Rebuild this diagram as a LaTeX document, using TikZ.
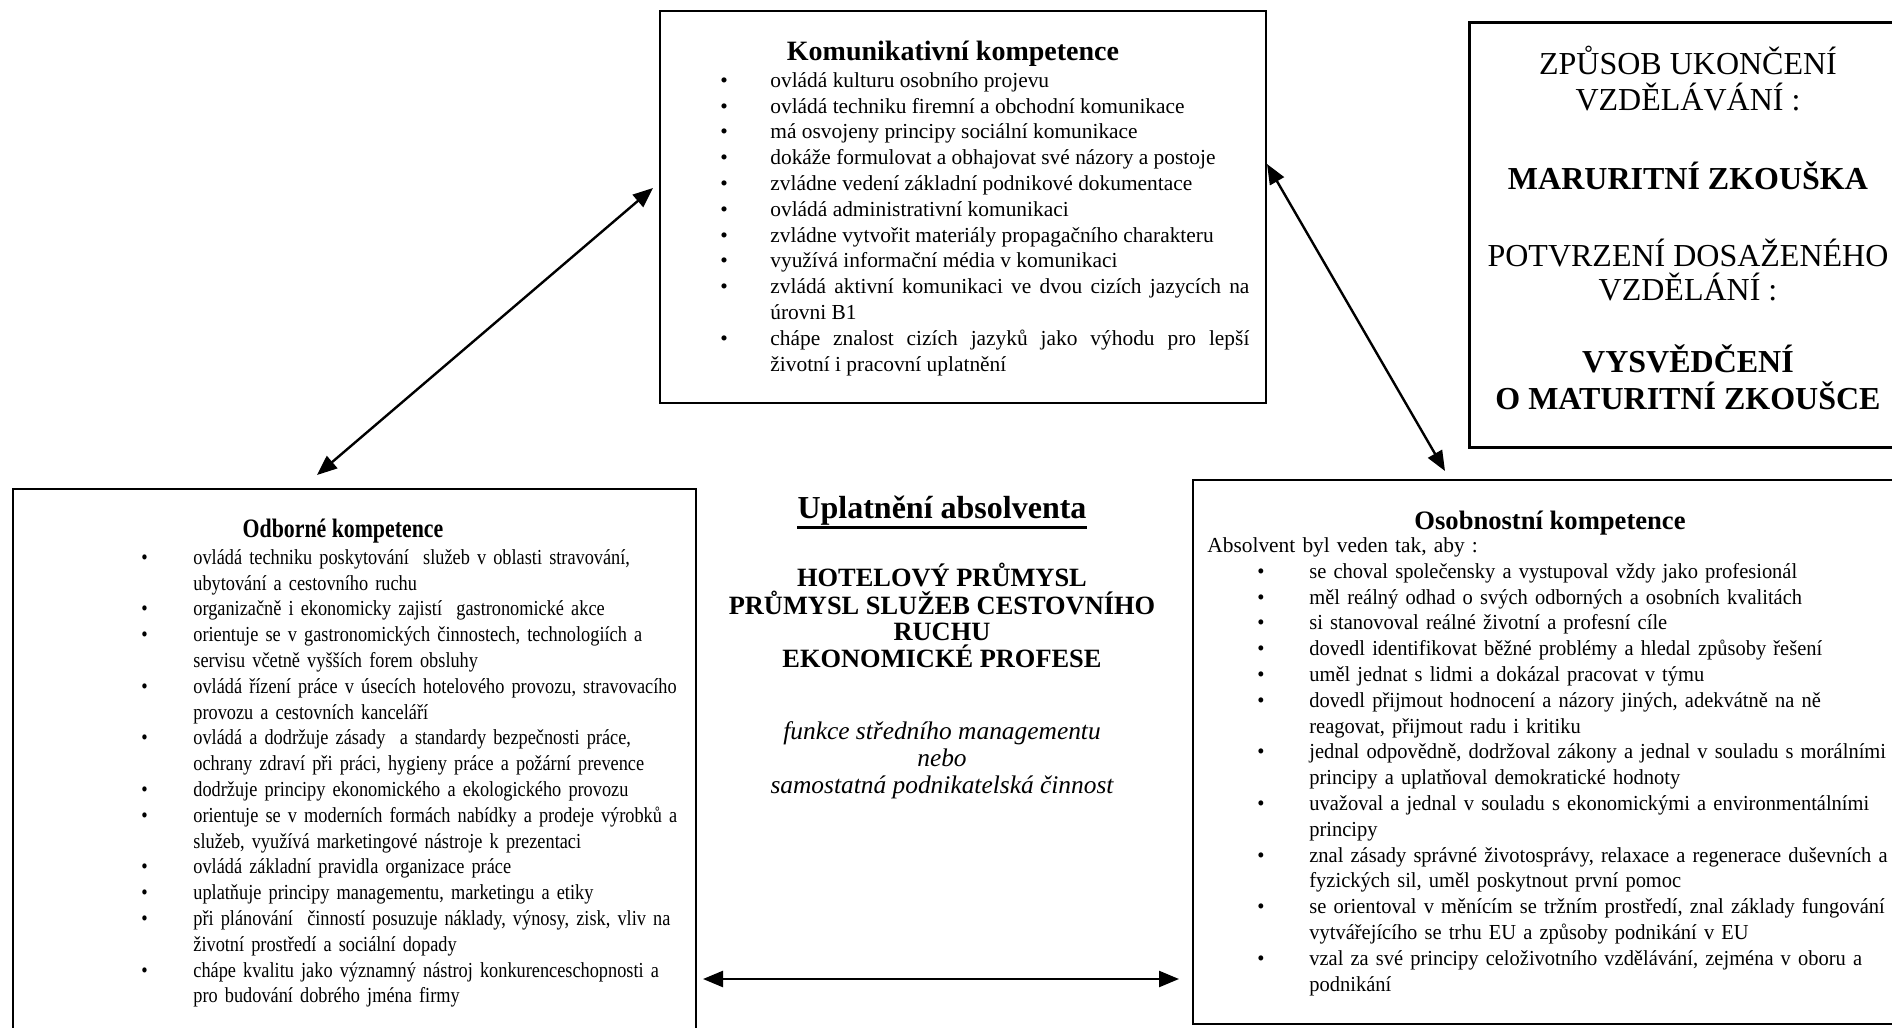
\documentclass[tikz,border=0pt]{standalone}
\usepackage{fontspec}
\setmainfont{Liberation Serif}
\newfontfamily\odbfont[FakeStretch=0.855]{Liberation Serif}
\newfontfamily\odbtfont[FakeStretch=0.82]{Liberation Serif}
\newfontfamily\osofont[FakeStretch=0.957]{Liberation Serif}
\usetikzlibrary{arrows.meta}
\newlength\bulind
\newlength\bulpos
\newcommand\bit[1]{\par\noindent\hangindent=\bulind\hangafter=1\makebox[\bulind][l]{\hspace*{\bulpos}\textbullet}\strut#1}
\newcommand\nohyph{\hyphenpenalty=10000\exhyphenpenalty=10000\relax}
\tikzset{
  frame/.style={draw, line width=1pt, anchor=north west, inner sep=0pt},
  lst/.style={anchor=north west, inner sep=0pt},
  ttl/.style={anchor=base, inner sep=0pt, font=\fontsize{13.3pt}{15pt}\selectfont\bfseries},
  capline/.style={anchor=base, inner sep=0pt, font=\fontsize{13.2pt}{15pt}\selectfont\bfseries},
  itline/.style={anchor=base, inner sep=0pt, font=\fontsize{12.7pt}{15pt}\selectfont\itshape},
  bigline/.style={anchor=base, inner sep=0pt, font=\fontsize{16pt}{18pt}\selectfont},
  bigbold/.style={anchor=base, inner sep=0pt, font=\fontsize{16pt}{18pt}\selectfont\bfseries},
  dbl/.style={{Triangle[length=10pt,width=8pt]}-{Triangle[length=10pt,width=8pt]}, line width=1.2pt},
}
\begin{document}
\begin{tikzpicture}[x=0.5pt, y=-0.5pt]
\useasboundingbox (0,0) rectangle (1892,1028);

% boxes
\node[frame, minimum width=303pt, minimum height=196pt] (komBox) at (659,10) {};
\node[frame, minimum width=341.5pt, minimum height=290pt] (odbBox) at (12,488) {};
\node[frame, minimum width=360pt, minimum height=272pt] (osoBox) at (1192,479) {};
\node[frame, line width=1.5pt, minimum width=224pt, minimum height=212.5pt] (endBox) at (1468,21) {};

% Komunikativni
\node[ttl, font=\fontsize{14pt}{15pt}\selectfont\bfseries] (komT) at (953,61) {Komunikativní kompetence};
\node[lst, text width=264.5pt, align=justify, font=\fontsize{10.7pt}{12.9pt}\selectfont] (komL) at (720,61) {\nohyph\setlength\bulind{25pt}\setlength\bulpos{0pt}%
\bit{ovládá kulturu osobního projevu}
\bit{ovládá techniku firemní a obchodní komunikace}
\bit{má osvojeny principy sociální komunikace}
\bit{dokáže formulovat a obhajovat své názory a postoje}
\bit{zvládne vedení základní podnikové dokumentace}
\bit{ovládá administrativní komunikaci}
\bit{zvládne vytvořit materiály propagačního charakteru}
\bit{využívá informační média v komunikaci}
\bit{zvládá aktivní komunikaci ve dvou cizích jazycích na\linebreak úrovni B1}
\bit{chápe znalost cizích jazyků jako výhodu pro lepší\linebreak životní i pracovní uplatnění}\par};

% Odborne
\node[ttl, font=\fontsize{13.3pt}{15pt}\selectfont\odbtfont\bfseries] (odbT) at (343,537) {Odborné kompetence};
\node[lst, text width=300pt, align=left, font=\fontsize{10.7pt}{12.9pt}\selectfont\odbfont] (odbL) at (141,538) {\nohyph\setlength\bulind{26pt}\setlength\bulpos{0pt}%
\bit{ovládá techniku poskytování \ služeb v oblasti stravování,\newline ubytování a cestovního ruchu}
\bit{organizačně i ekonomicky zajistí \ gastronomické akce}
\bit{orientuje se v gastronomických činnostech, technologiích a\newline servisu včetně vyšších forem obsluhy}
\bit{ovládá řízení práce v úsecích hotelového provozu, stravovacího\newline provozu a cestovních kanceláří}
\bit{ovládá a dodržuje zásady \ a standardy bezpečnosti práce,\newline ochrany zdraví při práci, hygieny práce a požární prevence}
\bit{dodržuje principy ekonomického a ekologického provozu}
\bit{orientuje se v moderních formách nabídky a prodeje výrobků a\newline služeb, využívá marketingové nástroje k prezentaci}
\bit{ovládá základní pravidla organizace práce}
\bit{uplatňuje principy managementu, marketingu a etiky}
\bit{při plánování \ činností posuzuje náklady, výnosy, zisk, vliv na\newline životní prostředí a sociální dopady}
\bit{chápe kvalitu jako významný nástroj konkurenceschopnosti a\newline pro budování dobrého jména firmy}\par};

% Osobnostni
\node[ttl] (osoT) at (1550,529) {Osobnostní kompetence};
\node[lst, text width=370pt, align=left, font=\fontsize{10.7pt}{12.9pt}\selectfont] (osoL) at (1207,534) {\nohyph\setlength\bulind{51pt}\setlength\bulpos{25pt}%
\noindent\strut Absolvent byl veden tak, aby :\par
\osofont
\bit{se choval společensky a vystupoval vždy jako profesionál}
\bit{měl reálný odhad o svých odborných a osobních kvalitách}
\bit{si stanovoval reálné životní a profesní cíle}
\bit{dovedl identifikovat běžné problémy a hledal způsoby řešení}
\bit{uměl jednat s lidmi a dokázal pracovat v týmu}
\bit{dovedl přijmout hodnocení a názory jiných, adekvátně na ně\newline reagovat, přijmout radu i kritiku}
\bit{jednal odpovědně, dodržoval zákony a jednal v souladu s morálními\newline principy a uplatňoval demokratické hodnoty}
\bit{uvažoval a jednal v souladu s ekonomickými a environmentálními\newline principy}
\bit{znal zásady správné životosprávy, relaxace a regenerace duševních a\newline fyzických sil, uměl poskytnout první pomoc}
\bit{se orientoval v měnícím se tržním prostředí, znal základy fungování\newline vytvářejícího se trhu EU a způsoby podnikání v EU}
\bit{vzal za své principy celoživotního vzdělávání, zejména v oboru a\newline podnikání}\par};

% centre column
\node[anchor=base, inner sep=0pt, font=\fontsize{16pt}{18pt}\selectfont\bfseries] (upl) at (942,518) {Uplatnění absolventa};
\draw[line width=1.3pt] ([yshift=-4.6pt]upl.base west) -- ([yshift=-4.6pt]upl.base east);
\node[capline] (h1) at (942,586) {HOTELOVÝ PRŮMYSL};
\node[capline] (h2) at (942,614) {PRŮMYSL SLUŽEB CESTOVNÍHO};
\node[capline] (h3) at (942,640) {RUCHU};
\node[capline] (h4) at (942,667) {EKONOMICKÉ PROFESE};
\node[itline] (i1) at (942,739) {funkce středního managementu};
\node[itline] (i2) at (942,766) {nebo};
\node[itline] (i3) at (942,793) {samostatná podnikatelská činnost};

% ending box
\node[bigline] (r1) at (1688,74) {ZPŮSOB UKONČENÍ};
\node[bigline] (r2) at (1688,110) {VZDĚLÁVÁNÍ :};
\node[bigbold] (r3) at (1688,189) {MARURITNÍ ZKOUŠKA};
\node[bigline] (r4) at (1688,266) {POTVRZENÍ DOSAŽENÉHO};
\node[bigline] (r5) at (1688,300) {VZDĚLÁNÍ :};
\node[bigbold] (r6) at (1688,372) {VYSVĚDČENÍ};
\node[bigbold] (r7) at (1688,409) {O MATURITNÍ ZKOUŠCE};

% connectors
\coordinate (a1a) at (317,475);
\coordinate (a1b) at (653,188);
\coordinate (a2a) at (1267,164);
\coordinate (a2b) at (1445,471);
\coordinate (a3a) at (703,979);
\coordinate (a3b) at (1179,979);
\draw[dbl] (a1a) -- (a1b);
\draw[dbl] (a2a) -- (a2b);
\draw[dbl] (a3a) -- (a3b);
\end{tikzpicture}
\end{document}
